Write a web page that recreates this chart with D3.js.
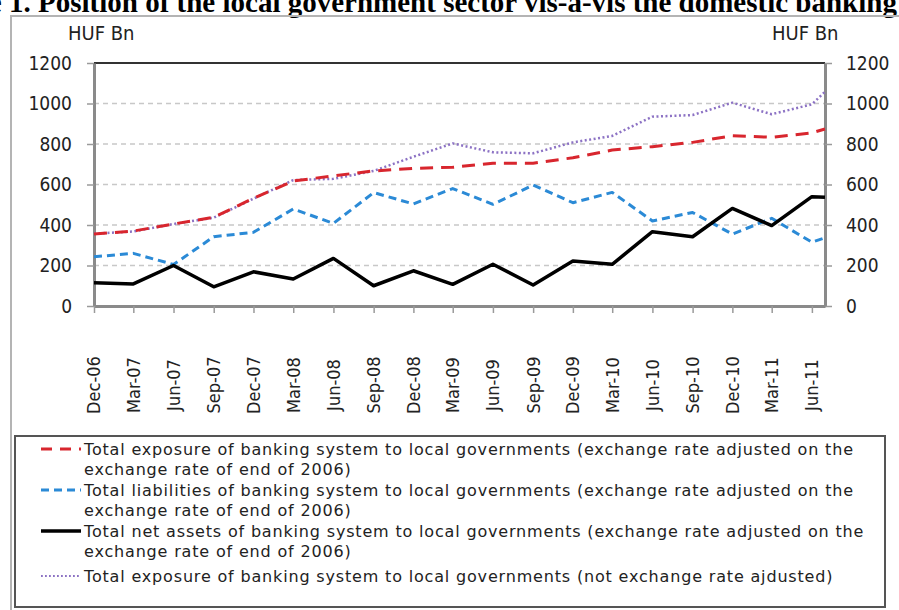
<!DOCTYPE html>
<html>
<head>
<meta charset="utf-8">
<script src="https://cdn.jsdelivr.net/npm/d3@7"></script>
<style>
  body { margin: 0; background: #fff; }
  svg { display: block; }
</style>
</head>
<body>
<div id="chart"></div>
<script>

// quarter-end observations (the last one is a partial period after Jun-11)
var periods = ["2006-12", "2007-03", "2007-06", "2007-09", "2007-12", "2008-03",
               "2008-06", "2008-09", "2008-12", "2009-03", "2009-06", "2009-09",
               "2009-12", "2010-03", "2010-06", "2010-09", "2010-12", "2011-03",
               "2011-06", "2011-07"];

var quarterLabels = ["Dec-06", "Mar-07", "Jun-07", "Sep-07", "Dec-07", "Mar-08",
                     "Jun-08", "Sep-08", "Dec-08", "Mar-09", "Jun-09", "Sep-09",
                     "Dec-09", "Mar-10", "Jun-10", "Sep-10", "Dec-10", "Mar-11",
                     "Jun-11"];

var yTicks = [0, 200, 400, 600, 800, 1000, 1200];

// HUF Bn
var exposureAdj = [355, 370, 405, 438, 532, 617, 643, 667, 680, 685,
                   705, 705, 732, 770, 787, 808, 841, 833, 855, 874];
var liabilitiesAdj = [243, 260, 205, 342, 364, 479, 408, 560, 504, 580,
                      502, 597, 510, 561, 420, 462, 355, 433, 315, 337];
var netAssetsAdj = [115, 109, 200, 95, 169, 133, 235, 100, 174, 107,
                    206, 104, 222, 206, 367, 342, 482, 397, 540, 537];
var exposureNotAdj = [357, 368, 405, 436, 530, 622, 628, 667, 737, 803,
                      759, 754, 808, 840, 935, 943, 1004, 947, 996, 1058];

var legendLines = [
  ["Total exposure of banking system to local governments (exchange rate adjusted on the",
   "exchange rate of end of 2006)"],
  ["Total liabilities of banking system to local governments (exchange rate adjusted on the",
   "exchange rate of end of 2006)"],
  ["Total net assets of banking system to local governments (exchange rate adjusted on the",
   "exchange rate of end of 2006)"],
  ["Total exposure of banking system to local governments (not exchange rate ajdusted)"]
];

var width = 899,
    height = 610,
    plotLeft = 94,
    plotRight = 825,
    plotTop = 63,
    plotBottom = 306,
    axisFont = "'DejaVu Sans Condensed', 'DejaVu Sans', sans-serif",
    legendFont = "'DejaVu Sans', sans-serif",
    textColor = "#222";

var parseMonth = d3.timeParse("%Y-%m");
var dates = periods.map(parseMonth);

var svg = d3.select("#chart")
            .append("svg")
            .attr("width", width)
            .attr("height", height);

// title, cut off by the top of the picture as in the source
var title = svg.append("text")
               .attr("y", 12)
               .style("font-family", "'Liberation Serif', 'Times New Roman', serif")
               .style("font-weight", "bold")
               .style("font-size", "29px")
               .attr("fill", "#000")
               .text("Figure 1. Position of the local government sector vis-\u00e0-vis the domestic banking system");
var prefix = title.node().getSubStringLength(0, 10);
title.attr("x", 38 - prefix);

// outer frame of the chart object
svg.append("path")
   .attr("d", "M11,610 V16 H899")
   .attr("fill", "none")
   .attr("stroke", "#b4b4b4")
   .attr("stroke-width", 2);

// scales
var x = d3.scaleTime()
          .domain([dates[0], dates[dates.length - 1]])
          .range([plotLeft, plotRight]);

var y = d3.scaleLinear()
          .domain([0, 1200])
          .range([plotBottom, plotTop]);

// dashed gridlines
svg.append("g")
   .selectAll("line")
   .data(yTicks.filter(function(d) { return d > 0 && d < 1200; }))
   .enter()
   .append("line")
   .attr("x1", plotLeft)
   .attr("x2", plotRight)
   .attr("y1", function(d) { return y(d); })
   .attr("y2", function(d) { return y(d); })
   .attr("stroke", "#c8c8c8")
   .attr("stroke-width", 1.5)
   .attr("stroke-dasharray", "5,4");

// top border of the plot area
svg.append("line")
   .attr("x1", plotLeft)
   .attr("x2", plotRight)
   .attr("y1", plotTop)
   .attr("y2", plotTop)
   .attr("stroke", "#333")
   .attr("stroke-width", 2);

function styleAxis(g) {
  g.select(".domain").attr("stroke", "#8a8a8a").attr("stroke-width", 3);
  g.selectAll(".tick line").attr("stroke", "#9a9a9a").attr("stroke-width", 1.5);
  g.selectAll(".tick text")
   .attr("fill", textColor)
   .style("font-family", axisFont)
   .style("font-size", "19px");
}

// left and right value axes
svg.append("g")
   .attr("transform", "translate(" + plotLeft + ",0)")
   .call(d3.axisLeft(y).tickValues(yTicks).tickFormat(d3.format("d"))
           .tickSize(7).tickSizeOuter(0).tickPadding(15))
   .call(styleAxis);

svg.append("g")
   .attr("transform", "translate(" + plotRight + ",0)")
   .call(d3.axisRight(y).tickValues(yTicks).tickFormat(d3.format("d"))
           .tickSize(7).tickSizeOuter(0).tickPadding(14))
   .call(styleAxis);

// bottom category axis
svg.append("g")
   .attr("transform", "translate(0," + plotBottom + ")")
   .call(d3.axisBottom(x).tickValues(dates.slice(0, quarterLabels.length))
           .tickFormat("").tickSize(7).tickSizeOuter(0))
   .call(styleAxis);

// rotated quarter labels
svg.append("g")
   .selectAll("text")
   .data(quarterLabels)
   .enter()
   .append("text")
   .attr("transform", function(d, i) {
     return "translate(" + x(dates[i]) + ",385) rotate(-90)";
   })
   .attr("text-anchor", "middle")
   .attr("dy", "0.36em")
   .attr("fill", textColor)
   .style("font-family", axisFont)
   .style("font-size", "18px")
   .text(function(d) { return d; });

// unit labels
[68, 772].forEach(function(ux) {
  svg.append("text")
     .attr("x", ux)
     .attr("y", 40)
     .attr("fill", textColor)
     .style("font-family", axisFont)
     .style("font-size", "20px")
     .text("HUF Bn");
});

// series
var series = [
  {values: exposureNotAdj, color: "#8c72c4", width: 2.5, dash: "2,2.5"},
  {values: liabilitiesAdj, color: "#2b8ad6", width: 3, dash: "8,5"},
  {values: exposureAdj, color: "#d8262e", width: 3, dash: "13,8"},
  {values: netAssetsAdj, color: "#000", width: 3.5, dash: null}
];

var line = d3.line()
             .x(function(d, i) { return x(dates[i]); })
             .y(function(d) { return y(d); });

svg.append("g")
   .selectAll("path")
   .data(series)
   .enter()
   .append("path")
   .attr("d", function(d) { return line(d.values); })
   .attr("fill", "none")
   .attr("stroke", function(d) { return d.color; })
   .attr("stroke-width", function(d) { return d.width; })
   .attr("stroke-dasharray", function(d) { return d.dash; })
   .attr("stroke-linejoin", "round");

// legend box
svg.append("rect")
   .attr("x", 15)
   .attr("y", 436)
   .attr("width", 870)
   .attr("height", 171)
   .attr("fill", "#fff")
   .attr("stroke", "#555")
   .attr("stroke-width", 2);

var legendSeries = [series[2], series[1], series[3], series[0]];
var rowY = [449, 490, 531, 576];
var rowStep = 20;

var legend = svg.append("g")
                .selectAll("g")
                .data(legendSeries)
                .enter()
                .append("g")
                .attr("transform", function(d, i) { return "translate(0," + rowY[i] + ")"; });

legend.append("line")
      .attr("x1", 41)
      .attr("x2", 81)
      .attr("stroke", function(d) { return d.color; })
      .attr("stroke-width", function(d, i) { return i == 3 ? 1.8 : d.width; })
      .attr("stroke-dasharray", function(d, i) {
        return i == 0 ? "11,8" : (i == 3 ? "1.8,2.2" : d.dash);
      });

legend.each(function(d, i) {
  var g = d3.select(this);
  legendLines[i].forEach(function(t, j) {
    g.append("text")
     .attr("class", "legend-text")
     .attr("x", 84)
     .attr("y", j * rowStep)
     .attr("dy", "0.35em")
     .attr("fill", textColor)
     .style("font-family", legendFont)
     .style("font-size", "16px")
     .text(t);
  });
});

// the source spaces its legend text widely: first line runs to about x = 853
var firstText = svg.select(".legend-text");
var natural = firstText.node().getComputedTextLength();
var spacing = (769 - natural) / (legendLines[0][0].length - 1);
svg.selectAll(".legend-text").style("letter-spacing", spacing + "px");

</script>
</body>
</html>
